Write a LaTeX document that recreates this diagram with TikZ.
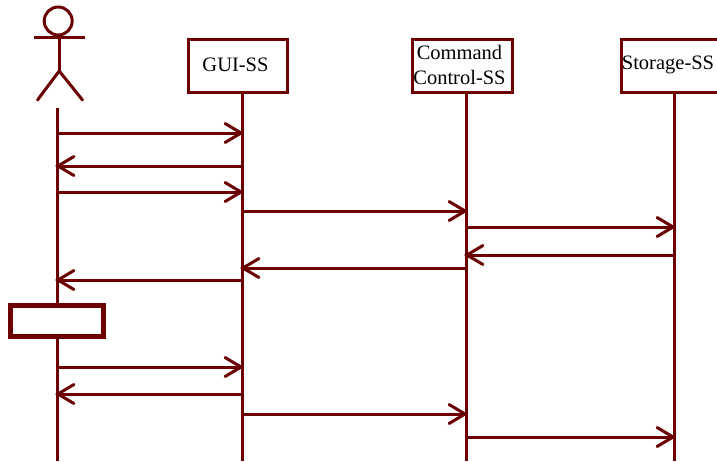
\documentclass[tikz,border=0pt]{standalone}
\usepackage{fontspec}
\setmainfont{Liberation Serif}
\usetikzlibrary{arrows.meta}
\definecolor{dk}{RGB}{108,0,0}
\tikzset{
  lifeobj/.style={draw=dk,line width=3pt,fill=white,minimum height=53pt,inner sep=0pt},
  objtext/.style={font=\fontsize{20.5}{25}\selectfont,inner sep=0pt,align=center},
  lifeline/.style={draw=dk,line width=3pt},
  msg/.style={draw=dk,line width=3pt,shorten >=-2pt,-{Straight Barb[length=16pt,width=19pt,line cap=round,line width=3pt]}},
  figline/.style={draw=dk,line width=3pt},
  activity/.style={draw=dk,line width=4.7pt,fill=white,minimum width=93pt,minimum height=30.7pt,inner sep=0pt},
}
\begin{document}
\begin{tikzpicture}[x=1pt,y=-1pt]
\useasboundingbox (0,0) rectangle (717,461);
% actor
\node[draw=dk,line width=3pt,circle,minimum size=28pt,inner sep=0pt] (head) at (58.2,21) {};
\coordinate (armL) at (33.7,37.3);
\coordinate (armR) at (84.7,37.3);
\coordinate (hip) at (59.2,71);
\coordinate (footL) at (37.5,100);
\coordinate (footR) at (82.5,100);
\draw[figline] (armL) -- (armR);
\draw[figline] (head.south -| hip) -- (hip);
\draw[figline,line cap=round] (footL) -- (hip) -- (footR);
% lifeline ends
\coordinate (a0) at (57,108);
\coordinate (a1) at (57,461);
\coordinate (g1) at (242,461);
\coordinate (c1) at (466,461);
\coordinate (s1) at (674,461);
% objects
\node[lifeobj,minimum width=99pt] (gui) at (238.3,65.9) {};
\node[objtext] (guil) at (235.5,65) {GUI-SS};
\node[lifeobj,minimum width=100pt] (cc) at (462.3,65.7) {};
\node[objtext] (ccl) at (459.5,64.5) {Command\\Control-SS};
\node[lifeobj,minimum width=100pt,anchor=west] (st) at (620.3,65.9) {};
\node[objtext] (stl) at (668,64.5) {Storage-SS};
% lifelines
\draw[lifeline] (a0) -- (a1);
\draw[lifeline] (g1 |- gui.south) -- (g1);
\draw[lifeline] (c1 |- cc.south) -- (c1);
\draw[lifeline] (s1 |- st.south) -- (s1);
\node[activity] (act) at (56.8,321) {};
% messages
\foreach \y/\p/\q in {133/a1/g1,166/g1/a1,192/a1/g1,211/g1/c1,227/c1/s1,255/s1/c1,268/c1/g1,280/g1/a1,367/a1/g1,394/g1/a1,414/g1/c1,437/c1/s1}
  \draw[msg] (\p |- 0,\y) -- (\q |- 0,\y);
\end{tikzpicture}
\end{document}
